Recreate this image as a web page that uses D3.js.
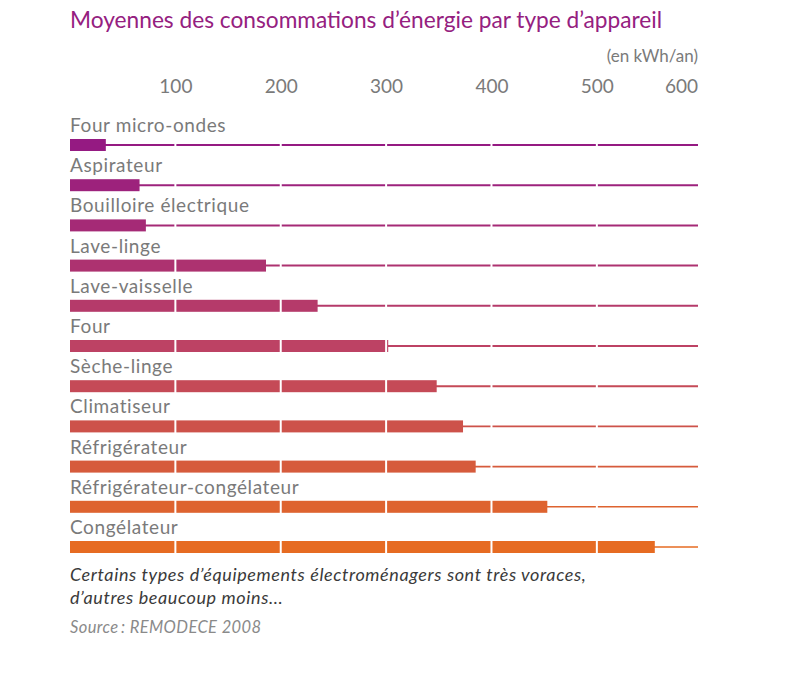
<!DOCTYPE html>
<html>
<head>
<meta charset="utf-8">
<script src="https://cdn.jsdelivr.net/npm/d3@7"></script>
<style>
  body { margin: 0; background: #fff; }
  svg text { font-family: Lato, "Open Sans", sans-serif; }
</style>
</head>
<body>
<div id="chart"></div>
<script>
'use strict';

// Appareils, du plus petit au plus gros consommateur
const appareils = [
  'Four micro-ondes', 'Aspirateur', 'Bouilloire électrique', 'Lave-linge',
  'Lave-vaisselle', 'Four', 'Sèche-linge', 'Climatiseur', 'Réfrigérateur',
  'Réfrigérateur-congélateur', 'Congélateur'
];
// Consommation moyenne (kWh/an)
const consommations = [34, 66, 72, 186, 235, 302, 348, 373, 385, 453, 555];
const tickValues = [100, 200, 300, 400, 500, 600];

const titre = 'Moyennes des consommations d\u2019énergie par type d\u2019appareil';
const unite = '(en kWh/an)';
const commentaire = [
  'Certains types d\u2019équipements électroménagers sont très voraces,',
  'd\u2019autres beaucoup moins...'
];
const source = 'Source\u2009: REMODECE 2008';

const width = 803, height = 683;
const left = 70, right = 698;

const svg = d3.select('#chart').append('svg')
  .attr('width', width)
  .attr('height', height);

const x = d3.scaleLinear().domain([0, 596]).range([left, right]);
const y = d3.scalePoint().domain(appareils).range([145, 547]);

const color = d3.scaleLinear()
  .domain([0, 5, 10])
  .range(['#951a82', '#bd4264', '#e66b22'])
  .interpolate(d3.interpolateRgb);

// Title
svg.append('text')
  .attr('x', left).attr('y', 28)
  .attr('fill', '#95207f')
  .attr('font-size', 22.7)
  .text(titre);

svg.append('text')
  .attr('x', right).attr('y', 62)
  .attr('text-anchor', 'end')
  .attr('fill', '#7a7a7a')
  .attr('font-size', 17)
  .text(unite);

// Axis (labels only)
const axis = svg.append('g')
  .attr('transform', 'translate(0,93)')
  .call(d3.axisTop(x).tickValues(tickValues).tickSize(0).tickPadding(0));
axis.select('.domain').remove();
axis.selectAll('text')
  .attr('fill', '#7a7a7a')
  .attr('font-size', 19)
  .attr('dy', 0);
axis.selectAll('.tick').filter(d => d === 600)
  .attr('transform', `translate(${right},0)`)
  .select('text').attr('text-anchor', 'end');

// Rows
const rows = svg.append('g').selectAll('g')
  .data(appareils)
  .join('g')
  .attr('transform', d => `translate(0,${y(d)})`);

rows.append('line')
  .attr('x1', left).attr('x2', right)
  .attr('stroke', (d, i) => color(i))
  .attr('stroke-width', (d, i) => i < 7 ? 2 : 1.6);

rows.append('rect')
  .attr('x', left)
  .attr('y', -6)
  .attr('height', 12)
  .attr('width', (d, i) => x(consommations[i]) - x(0))
  .attr('fill', (d, i) => color(i));

rows.append('text')
  .attr('x', left)
  .attr('y', -13)
  .attr('fill', '#7a7a7a')
  .attr('font-size', 19)
  .attr('letter-spacing', 0.6)
  .text(d => d);

// White separators at each hundred, within each row
rows.selectAll('.sep')
  .data(tickValues.filter(v => v < 600))
  .join('line')
  .attr('class', 'sep')
  .attr('x1', d => x(d)).attr('x2', d => x(d))
  .attr('y1', -7).attr('y2', 7)
  .attr('stroke', '#fff')
  .attr('stroke-width', 2);

// Notes
svg.append('g').selectAll('text')
  .data(commentaire)
  .join('text')
  .attr('x', left)
  .attr('y', (d, i) => 581 + i * 23)
  .attr('fill', '#3a3a3a')
  .attr('font-size', 18)
  .attr('letter-spacing', 0.6)
  .attr('font-style', 'italic')
  .text(d => d);

svg.append('text')
  .attr('x', left).attr('y', 633)
  .attr('fill', '#8a8a8a')
  .attr('font-size', 16.5)
  .attr('letter-spacing', 0.4)
  .attr('font-style', 'italic')
  .text(source);
</script>
</body>
</html>
